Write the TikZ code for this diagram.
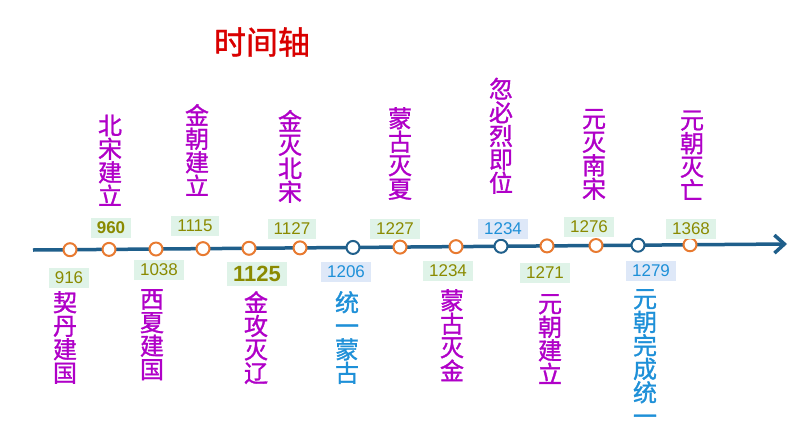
\documentclass[tikz,border=0pt]{standalone}
\usepackage{fontspec}
\setmainfont{Noto Sans CJK SC}
\newfontfamily\cjkb{Noto Sans CJK SC}[FakeBold=1.2]
\setsansfont{Liberation Sans}
\usetikzlibrary{arrows.meta}
\definecolor{pur}{HTML}{B000C8}
\definecolor{blu}{HTML}{1E90D8}
\definecolor{axis}{HTML}{1F5F8B}
\definecolor{dot}{HTML}{E87A30}
\definecolor{gfill}{HTML}{DFF3E8}
\definecolor{bfill}{HTML}{DEE8F8}
\definecolor{olive}{HTML}{8A8A00}
\tikzset{
 ev/.style={text=pur,font=\cjkb\fontsize{24}{23.5}\selectfont,align=center,inner sep=0pt},
 evb/.style={ev,text=blu},
 yr/.style={fill=gfill,text=olive,font=\sffamily\fontsize{17}{17}\selectfont,inner xsep=6pt,inner ysep=4pt},
 yrb/.style={yr,fill=bfill,text=blu},
 od/.style={circle,draw=dot,line width=2pt,fill=white,minimum size=13pt,inner sep=0pt},
 bd/.style={od,draw=axis}
}
\begin{document}
\begin{tikzpicture}[x=1pt,y=-1pt]
\useasboundingbox[fill=white] (0,0) rectangle (794,447);
\node[text=red!85!black,font=\cjkb\fontsize{32}{32}\selectfont] (t) at (262,42) {时间轴};
\coordinate (s) at (33,250);
\coordinate (e) at (787,244);
\draw[axis,line width=3.5pt,-{Straight Barb[length=10pt,width=18pt,line width=3.5pt]}] (s) -- (e);
\foreach \x/\n/\s in {70/a/od,109/b/od,156/c/od,203/d/od,249/e/od,300/f/od,353/g/bd,400/h/od,456/i/od,501/j/bd,547/k/od,596/l/od,638/m/bd,690/n/od}
 \node[\s] (\n) at (\x,{250-(\x-33)*6/754}) {};
% year boxes
\node[yr,font=\sffamily\bfseries\fontsize{17}{17}\selectfont] (y960) at (111,228) {960};
\node[yr] (y1115) at (195,226) {1115};
\node[yr] (y1127) at (292,229) {1127};
\node[yr] (y1227) at (395,229) {1227};
\node[yrb] (y1234a) at (503,229) {1234};
\node[yr] (y1276) at (589,227) {1276};
\node[yr] (y1368) at (691,229) {1368};
\node[yr] (y916) at (69,278) {916};
\node[yr] (y1038) at (159,270) {1038};
\node[yr,font=\sffamily\bfseries\fontsize{22}{22}\selectfont] (y1125) at (257,274) {1125};
\node[yrb] (y1206) at (346,272) {1206};
\node[yr] (y1234b) at (448,271) {1234};
\node[yr] (y1271) at (545,273) {1271};
\node[yrb] (y1279) at (651,271) {1279};
% events
\node[ev,anchor=south] (e1) at (110,206) {北\\宋\\建\\立};
\node[ev,anchor=south] (e2) at (197,196) {金\\朝\\建\\立};
\node[ev,anchor=south] (e3) at (290,203) {金\\灭\\北\\宋};
\node[ev,anchor=south] (e4) at (400,200) {蒙\\古\\灭\\夏};
\node[ev,anchor=south] (e5) at (501,194) {忽\\必\\烈\\即\\位};
\node[ev,anchor=south] (e6) at (594,200) {元\\灭\\南\\宋};
\node[ev,anchor=south] (e7) at (692,200) {元\\朝\\灭\\亡};
\node[ev,anchor=north] (f1) at (65,291) {契\\丹\\建\\国};
\node[ev,anchor=north] (f2) at (152,289) {西\\夏\\建\\国};
\node[ev,anchor=north] (f3) at (256,291) {金\\攻\\灭\\辽};
\node[evb,anchor=north] (f4) at (347,291) {统\\一\\蒙\\古};
\node[ev,anchor=north] (f5) at (452,289) {蒙\\古\\灭\\金};
\node[ev,anchor=north] (f6) at (550,294) {元\\朝\\建\\立};
\node[evb,anchor=north] (f7) at (645,289) {元\\朝\\完\\成\\统\\一};
\end{tikzpicture}
\end{document}
